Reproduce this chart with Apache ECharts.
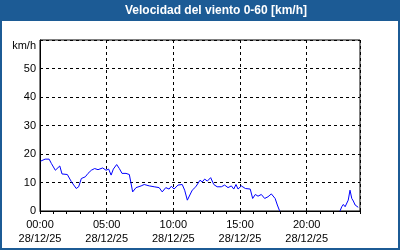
<!DOCTYPE html>
<html><head><meta charset="utf-8">
<script src="https://cdn.jsdelivr.net/npm/echarts@6/dist/echarts.min.js"></script>
<style>html,body{margin:0;padding:0;background:#fff}#c{width:400px;height:250px}</style>
</head><body><div id="c"></div>
<script>
var titleText = 'Velocidad del viento 0-60 [km/h]';
var yUnit = 'km/h';
var xTickMinutes = [0, 300, 600, 900, 1200];
var dateLabel = '28/12/25';
var times = [3,9,23,41,51,69,89,99,108,123,141,163,174,186,204,216,231,246,261,282,297,309,320,330,345,357,369,387,402,410,417,424,432,455,469,477,492,514,536,550,566,581,591,603,621,640,651,663,671,685,701,709,720,730,741,753,768,774,782,797,816,831,846,861,872,882,891,906,924,946,957,969,981,996,1011,1026,1041,1058,1068,1077,1080,1200,1350,1358,1365,1373,1380,1387,1395,1403,1410,1418,1425,1432];
var speeds = [17.5,17.8,18.2,18.2,16.7,14.3,15.8,13,13.7,12.8,10.3,7.9,8.5,11.4,12,13.2,14.3,14.9,14.5,15.1,14.3,14.7,12.6,14.7,16.3,14.9,13.2,13.2,12.8,12.3,6.7,7.3,8.2,8.8,9.3,8.6,8.8,8.5,8.2,6.7,8.2,7.7,8.7,7.7,9.1,9.3,7.3,3.8,4.5,7.3,8.5,8.2,10.8,10.2,11.2,10.5,11.7,11.4,9.3,8.5,8.5,9.1,8.2,8.8,7.7,9.3,7.7,8.8,7.9,7.7,4.4,5.8,5.2,5.8,4.4,5.0,6.0,4.4,2.1,0.3,0,null,0,1.5,2.3,1.5,1.0,3.8,7.3,4.4,3.5,2.1,1.5,1.3];

var blue = '#1c5b95';
var font = 'Liberation Sans';
var data = times.map(function(t, i){ return [t, speeds[i] == null ? '-' : speeds[i]]; });
function hhmm(m){ var h = Math.floor(m/60); return (h<10?'0':'')+h+':00'; }

var chart = echarts.init(document.getElementById('c'), null, {renderer:'canvas'});
chart.setOption({
  animation: false,
  backgroundColor: blue,
  graphic: [
    {type:'rect', left:2, top:21, shape:{width:396, height:227}, style:{fill:'#ffffff'}, z:-10},
    {type:'text', x:216, y:11, style:{text:titleText, fill:'#ffffff', font:'bold 12px "'+font+'"', textAlign:'center', textVerticalAlign:'middle'}}
  ],
  grid: {left:40, right:40, top:40, bottom:39, show:true, borderColor:'#000', borderWidth:1, backgroundColor:'transparent'},
  xAxis: [
    {type:'value', min:0, max:1440, interval:300,
     axisLine:{show:true, lineStyle:{color:'#000', width:1}},
     axisTick:{show:false},
     splitLine:{show:true, lineStyle:{color:'#000', type:[3,3], width:1}},
     axisLabel:{margin:7, fontFamily:font, fontSize:11, color:'#000', lineHeight:14,
       formatter:function(v){ return xTickMinutes.indexOf(v) >= 0 ? hhmm(v)+'\n'+dateLabel : ''; }}
    },
    {type:'value', min:0, max:1440, interval:60, position:'bottom',
     axisLine:{show:false}, axisLabel:{show:false}, splitLine:{show:false},
     axisTick:{show:true, length:3, lineStyle:{color:'#000'}}
    }
  ],
  yAxis: {type:'value', min:0, max:60, interval:10,
    name: yUnit, nameLocation:'end', nameGap:-6,
    nameTextStyle:{fontFamily:font, fontSize:11, color:'#000', align:'right', verticalAlign:'middle', padding:[0,4,0,0]},
    axisLine:{show:true, lineStyle:{color:'#000'}},
    axisTick:{show:false},
    splitLine:{show:true, lineStyle:{color:'#000', type:[3,3], width:1}},
    axisLabel:{margin:4, fontFamily:font, fontSize:11, color:'#000',
      formatter:function(v){ return v === 60 ? '' : String(v); }}
  },
  series: [{type:'line', xAxisIndex:0, data:data, showSymbol:false, symbol:'none',
    lineStyle:{color:'#0000ff', width:1}, connectNulls:false}]
});
</script></body></html>
